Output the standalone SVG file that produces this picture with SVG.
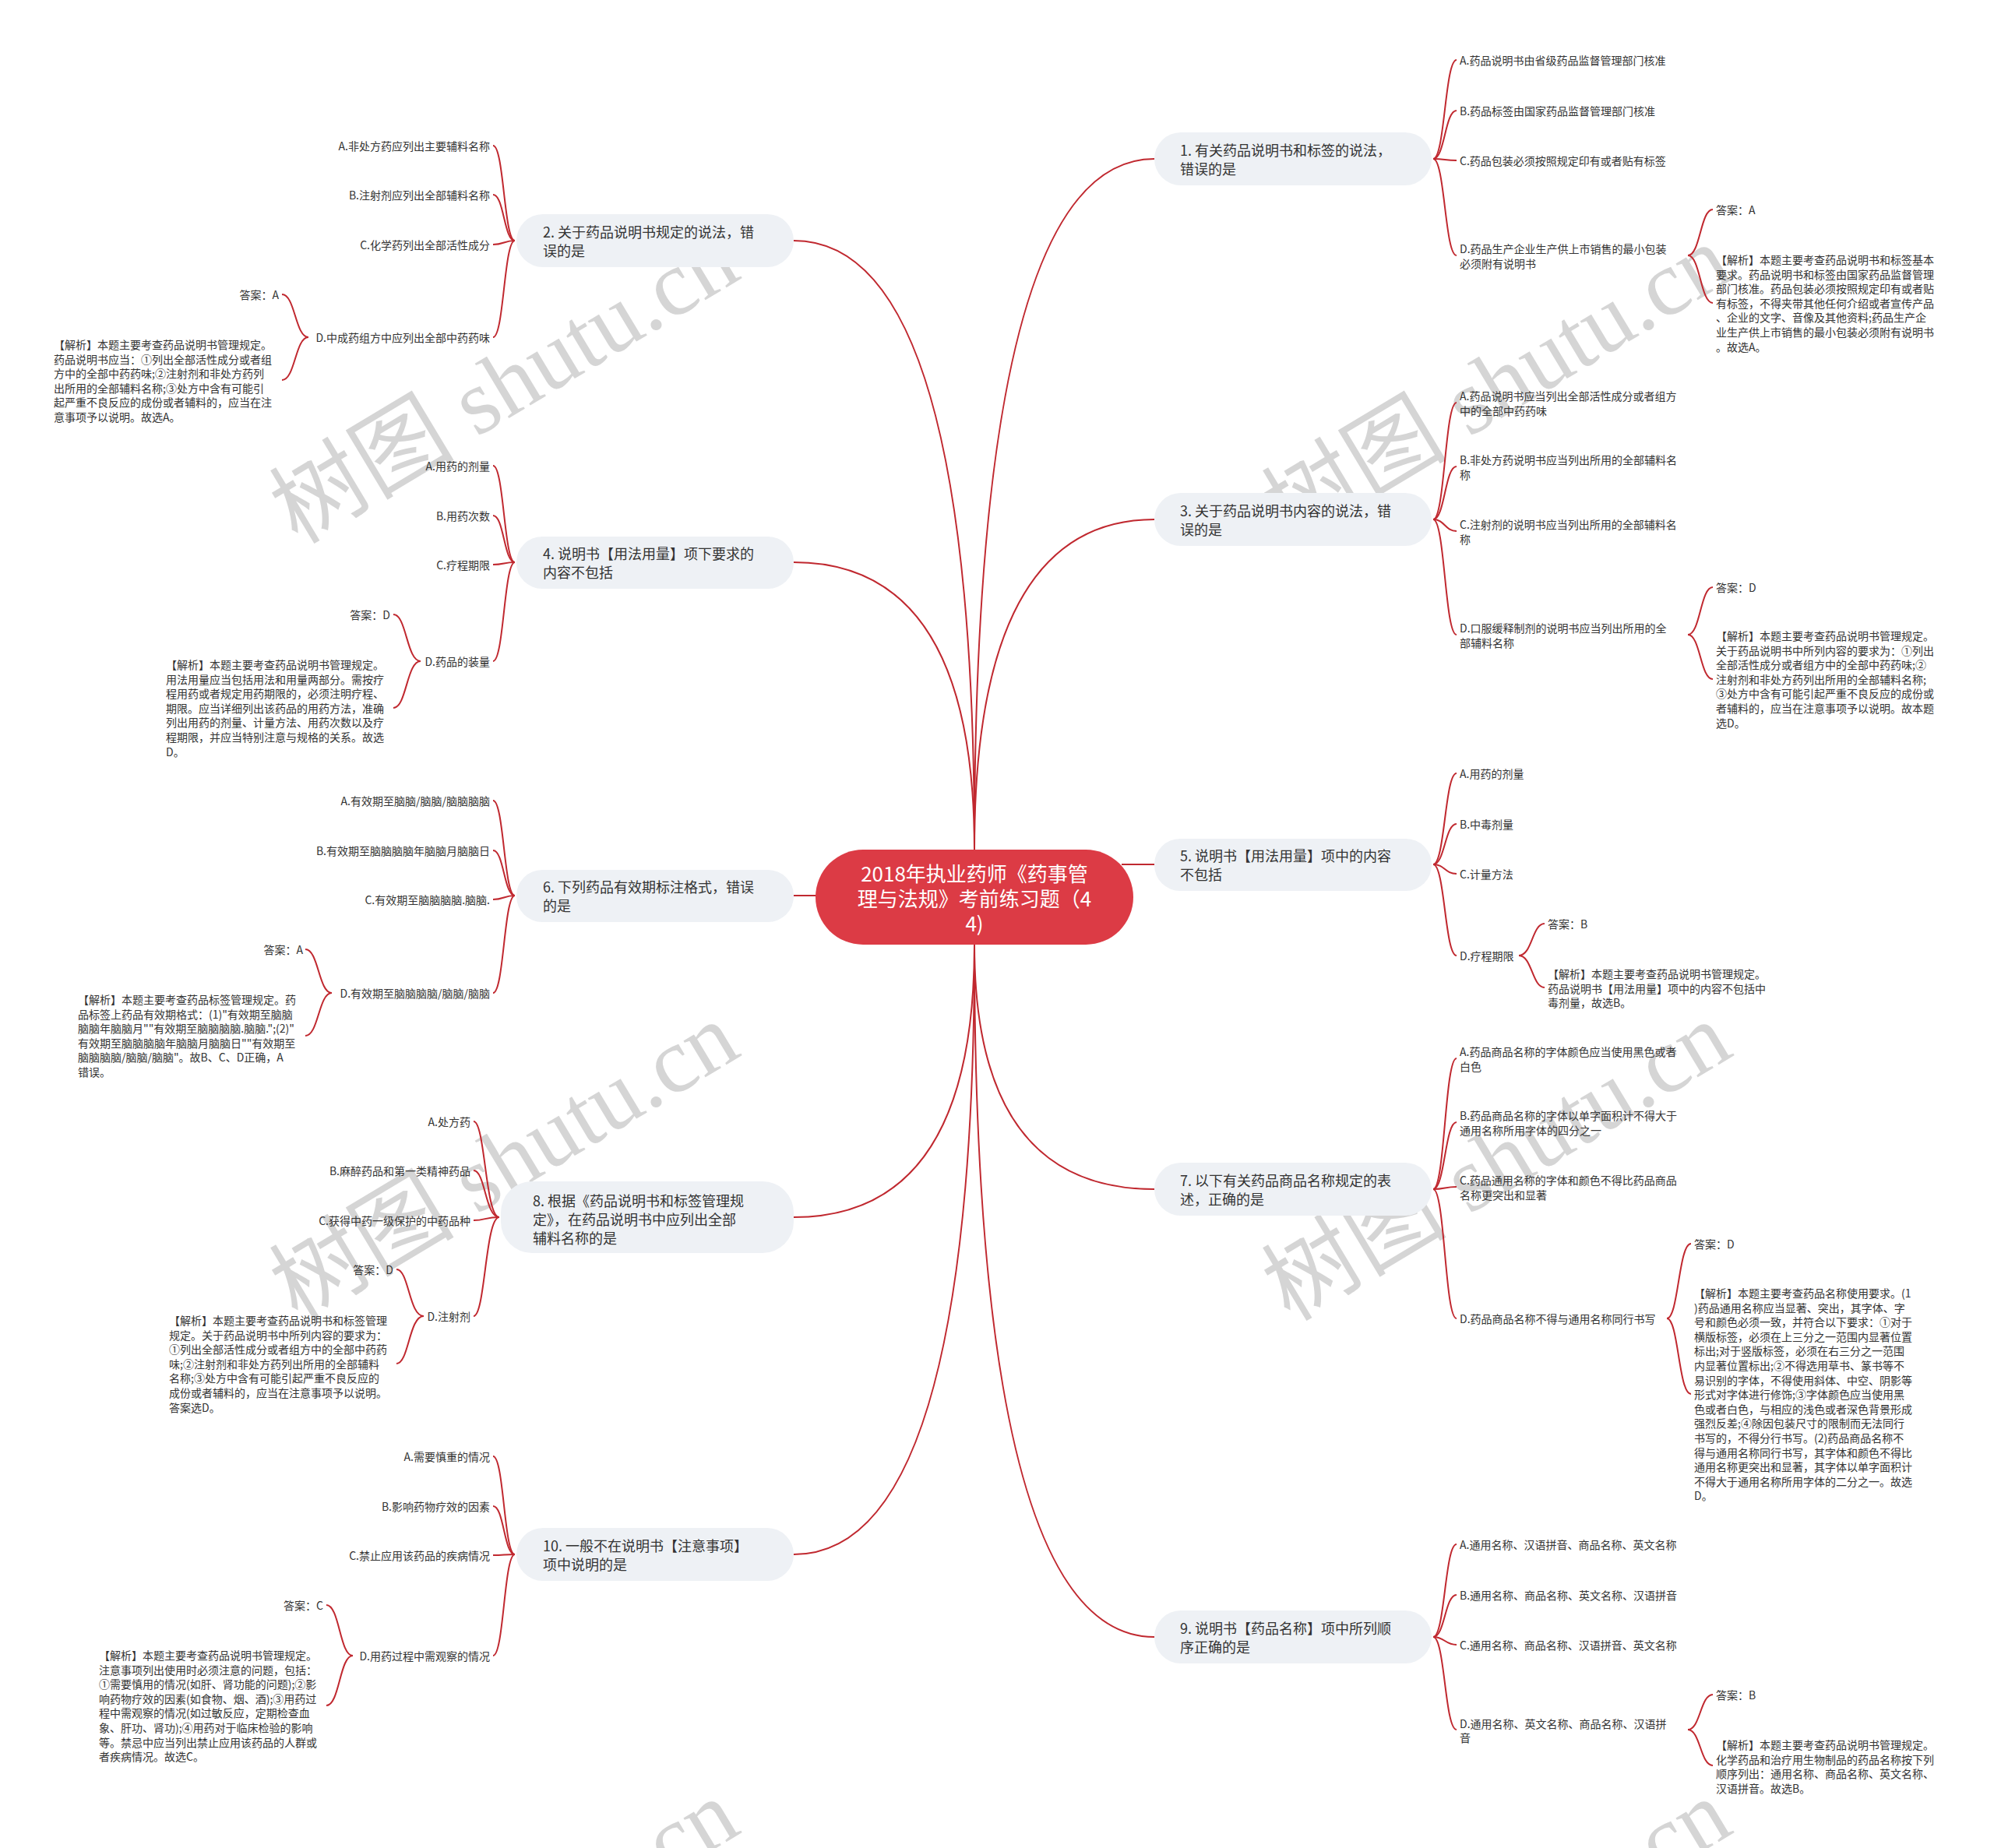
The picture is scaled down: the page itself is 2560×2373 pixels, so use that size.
<svg xmlns="http://www.w3.org/2000/svg" width="2560" height="2373" viewBox="0 0 2560 2373">
<style>
text{font-family:"Noto Sans CJK SC","Microsoft YaHei",sans-serif;dominant-baseline:central;fill:#333}
.wm{font-family:"Liberation Serif","Noto Sans CJK SC",serif;font-size:119px;fill:#d5d5d5;dominant-baseline:alphabetic}
.wmc{font-family:"Noto Sans CJK SC",sans-serif}
.link{fill:none;stroke:#c0282f;stroke-width:2}
.n1 rect{fill:#eef1f5}
.n1 text{font-size:18px}
.t2{font-size:14px}
.e{text-anchor:end}
.root rect{fill:#dc3b45}
.root text{font-size:26px;fill:#fff;text-anchor:middle}
</style>
<rect width="2560" height="2373" fill="#fff"/>
<g id="watermark">
<text class="wm" transform="translate(382,700) rotate(-31)"><tspan class="wmc">树图</tspan> shutu.cn</text>
<text class="wm" transform="translate(1656,700) rotate(-31)"><tspan class="wmc">树图</tspan> shutu.cn</text>
<text class="wm" transform="translate(382,1698) rotate(-31)"><tspan class="wmc">树图</tspan> shutu.cn</text>
<text class="wm" transform="translate(1656,1698) rotate(-31)"><tspan class="wmc">树图</tspan> shutu.cn</text>
<text class="wm" transform="translate(382,2696) rotate(-31)"><tspan class="wmc">树图</tspan> shutu.cn</text>
<text class="wm" transform="translate(1656,2696) rotate(-31)"><tspan class="wmc">树图</tspan> shutu.cn</text>
</g>
<g id="connectors" class="link">
<path d="M1251 1091Q1251 204 1482 204"/>
<path d="M1251 1091Q1251 309 1019 309"/>
<path d="M1251 1091Q1251 667 1482 667"/>
<path d="M1251 1091Q1251 722 1019 722"/>
<path d="M1440 1110L1482 1110"/>
<path d="M1019 1150L1062 1150"/>
<path d="M1251 1213Q1251 1527 1482 1527"/>
<path d="M1251 1213Q1251 1563 1019 1563"/>
<path d="M1251 1213Q1251 2102 1482 2102"/>
<path d="M1251 1213Q1251 1996 1019 1996"/>
<path d="M1840 204C1855 204 1855 77 1870 77"/>
<path d="M1840 204C1855 204 1855 142 1870 142"/>
<path d="M1840 204C1855 204 1855 206 1870 206"/>
<path d="M1840 204C1855 204 1855 328 1870 328"/>
<path d="M2167 328C2183 328 2183 269 2199 269"/>
<path d="M2167 328C2183 328 2183 389 2199 389"/>
<path d="M1840 667C1855 667 1855 517 1870 517"/>
<path d="M1840 667C1855 667 1855 599 1870 599"/>
<path d="M1840 667C1855 667 1855 682 1870 682"/>
<path d="M1840 667C1855 667 1855 815 1870 815"/>
<path d="M2167 815C2183 815 2183 754 2199 754"/>
<path d="M2167 815C2183 815 2183 872 2199 872"/>
<path d="M1840 1110C1855 1110 1855 993 1870 993"/>
<path d="M1840 1110C1855 1110 1855 1058 1870 1058"/>
<path d="M1840 1110C1855 1110 1855 1122 1870 1122"/>
<path d="M1840 1110C1855 1110 1855 1227 1870 1227"/>
<path d="M1950 1227C1967 1227 1967 1186 1983 1186"/>
<path d="M1950 1227C1967 1227 1967 1268 1983 1268"/>
<path d="M1840 1527C1855 1527 1855 1359 1870 1359"/>
<path d="M1840 1527C1855 1527 1855 1441 1870 1441"/>
<path d="M1840 1527C1855 1527 1855 1524 1870 1524"/>
<path d="M1840 1527C1855 1527 1855 1693 1870 1693"/>
<path d="M2140 1693C2155 1693 2155 1597 2171 1597"/>
<path d="M2140 1693C2155 1693 2155 1790 2171 1790"/>
<path d="M1840 2102C1855 2102 1855 1983 1870 1983"/>
<path d="M1840 2102C1855 2102 1855 2048 1870 2048"/>
<path d="M1840 2102C1855 2102 1855 2112 1870 2112"/>
<path d="M1840 2102C1855 2102 1855 2221 1870 2221"/>
<path d="M2167 2221C2183 2221 2183 2176 2199 2176"/>
<path d="M2167 2221C2183 2221 2183 2267 2199 2267"/>
<path d="M661 309C647 309 647 187 633 187"/>
<path d="M661 309C647 309 647 250 633 250"/>
<path d="M661 309C647 309 647 314 633 314"/>
<path d="M661 309C647 309 647 433 633 433"/>
<path d="M396 433C379 433 379 378 362 378"/>
<path d="M396 433C379 433 379 488 362 488"/>
<path d="M661 722C647 722 647 598 633 598"/>
<path d="M661 722C647 722 647 662 633 662"/>
<path d="M661 722C647 722 647 725 633 725"/>
<path d="M661 722C647 722 647 849 633 849"/>
<path d="M540 849C522 849 522 789 505 789"/>
<path d="M540 849C522 849 522 909 505 909"/>
<path d="M661 1150C647 1150 647 1028 633 1028"/>
<path d="M661 1150C647 1150 647 1092 633 1092"/>
<path d="M661 1150C647 1150 647 1155 633 1155"/>
<path d="M661 1150C647 1150 647 1275 633 1275"/>
<path d="M426 1275C409 1275 409 1219 392 1219"/>
<path d="M426 1275C409 1275 409 1330 392 1330"/>
<path d="M641 1563C623 1563 623 1440 608 1440"/>
<path d="M641 1563C623 1563 623 1503 608 1503"/>
<path d="M641 1563C623 1563 623 1567 608 1567"/>
<path d="M641 1563C623 1563 623 1690 608 1690"/>
<path d="M544 1690C525 1690 525 1630 509 1630"/>
<path d="M544 1690C525 1690 525 1751 509 1751"/>
<path d="M661 1996C647 1996 647 1870 633 1870"/>
<path d="M661 1996C647 1996 647 1934 633 1934"/>
<path d="M661 1996C647 1996 647 1997 633 1997"/>
<path d="M661 1996C647 1996 647 2126 633 2126"/>
<path d="M453 2126C436 2126 436 2061 419 2061"/>
<path d="M453 2126C436 2126 436 2190 419 2190"/>
</g>
<g id="root" class="root">
<rect x="1047" y="1091" width="408" height="122" rx="61"/>
<text x="1251" y="1120">2018年执业药师《药事管</text>
<text x="1251" y="1152">理与法规》考前练习题（4</text>
<text x="1251" y="1184">4)</text>
</g>
<g id="q1" class="n1">
<rect x="1482" y="170" width="356" height="68" rx="34"/>
<text x="1515" y="192">1. 有关药品说明书和标签的说法，</text>
<text x="1515" y="216">错误的是</text>
</g>
<g id="q1-opts" class="t2">
<text x="1874" y="77">A.药品说明书由省级药品监督管理部门核准</text>
<text x="1874" y="142">B.药品标签由国家药品监督管理部门核准</text>
<text x="1874" y="206">C.药品包装必须按照规定印有或者贴有标签</text>
<text x="1874" y="319">D.药品生产企业生产供上市销售的最小包装</text>
<text x="1874" y="338">必须附有说明书</text>
</g>
<g id="q1-ans" class="t2">
<text x="2203" y="269">答案：A</text>
<text x="2203" y="333">【解析】本题主要考查药品说明书和标签基本</text>
<text x="2203" y="351.6">要求。药品说明书和标签由国家药品监督管理</text>
<text x="2203" y="370.2">部门核准。药品包装必须按照规定印有或者贴</text>
<text x="2203" y="388.8">有标签，不得夹带其他任何介绍或者宣传产品</text>
<text x="2203" y="407.4">、企业的文字、音像及其他资料;药品生产企</text>
<text x="2203" y="426">业生产供上市销售的最小包装必须附有说明书</text>
<text x="2203" y="444.6">。故选A。</text>
</g>
<g id="q2" class="n1">
<rect x="663" y="275" width="356" height="68" rx="34"/>
<text x="697" y="297">2. 关于药品说明书规定的说法，错</text>
<text x="697" y="321">误的是</text>
</g>
<g id="q2-opts" class="t2 e">
<text x="629" y="187">A.非处方药应列出主要辅料名称</text>
<text x="629" y="250">B.注射剂应列出全部辅料名称</text>
<text x="629" y="314">C.化学药列出全部活性成分</text>
<text x="629" y="433">D.中成药组方中应列出全部中药药味</text>
<text x="358" y="378">答案：A</text>
</g>
<g id="q2-ans" class="t2">
<text x="69" y="442">【解析】本题主要考查药品说明书管理规定。</text>
<text x="69" y="460.6">药品说明书应当：①列出全部活性成分或者组</text>
<text x="69" y="479.2">方中的全部中药药味;②注射剂和非处方药列</text>
<text x="69" y="497.8">出所用的全部辅料名称;③处方中含有可能引</text>
<text x="69" y="516.4">起严重不良反应的成份或者辅料的，应当在注</text>
<text x="69" y="535">意事项予以说明。故选A。</text>
</g>
<g id="q3" class="n1">
<rect x="1482" y="633" width="356" height="68" rx="34"/>
<text x="1515" y="655">3. 关于药品说明书内容的说法，错</text>
<text x="1515" y="679">误的是</text>
</g>
<g id="q3-opts" class="t2">
<text x="1874" y="508">A.药品说明书应当列出全部活性成分或者组方</text>
<text x="1874" y="527">中的全部中药药味</text>
<text x="1874" y="590">B.非处方药说明书应当列出所用的全部辅料名</text>
<text x="1874" y="609">称</text>
<text x="1874" y="673">C.注射剂的说明书应当列出所用的全部辅料名</text>
<text x="1874" y="692">称</text>
<text x="1874" y="806">D.口服缓释制剂的说明书应当列出所用的全</text>
<text x="1874" y="825">部辅料名称</text>
</g>
<g id="q3-ans" class="t2">
<text x="2203" y="754">答案：D</text>
<text x="2203" y="816">【解析】本题主要考查药品说明书管理规定。</text>
<text x="2203" y="834.6">关于药品说明书中所列内容的要求为：①列出</text>
<text x="2203" y="853.2">全部活性成分或者组方中的全部中药药味;②</text>
<text x="2203" y="871.8">注射剂和非处方药列出所用的全部辅料名称;</text>
<text x="2203" y="890.4">③处方中含有可能引起严重不良反应的成份或</text>
<text x="2203" y="909">者辅料的，应当在注意事项予以说明。故本题</text>
<text x="2203" y="927.6">选D。</text>
</g>
<g id="q4" class="n1">
<rect x="663" y="689" width="356" height="67" rx="33"/>
<text x="697" y="710">4. 说明书【用法用量】项下要求的</text>
<text x="697" y="734">内容不包括</text>
</g>
<g id="q4-opts" class="t2 e">
<text x="629" y="598">A.用药的剂量</text>
<text x="629" y="662">B.用药次数</text>
<text x="629" y="725">C.疗程期限</text>
<text x="629" y="849">D.药品的装量</text>
<text x="501" y="789">答案：D</text>
</g>
<g id="q4-ans" class="t2">
<text x="213" y="853">【解析】本题主要考查药品说明书管理规定。</text>
<text x="213" y="871.6">用法用量应当包括用法和用量两部分。需按疗</text>
<text x="213" y="890.2">程用药或者规定用药期限的，必须注明疗程、</text>
<text x="213" y="908.8">期限。应当详细列出该药品的用药方法，准确</text>
<text x="213" y="927.4">列出用药的剂量、计量方法、用药次数以及疗</text>
<text x="213" y="946">程期限，并应当特别注意与规格的关系。故选</text>
<text x="213" y="964.6">D。</text>
</g>
<g id="q5" class="n1">
<rect x="1482" y="1077" width="356" height="67" rx="33"/>
<text x="1515" y="1098">5. 说明书【用法用量】项中的内容</text>
<text x="1515" y="1122">不包括</text>
</g>
<g id="q5-opts" class="t2">
<text x="1874" y="993">A.用药的剂量</text>
<text x="1874" y="1058">B.中毒剂量</text>
<text x="1874" y="1122">C.计量方法</text>
<text x="1874" y="1227">D.疗程期限</text>
</g>
<g id="q5-ans" class="t2">
<text x="1987" y="1186">答案：B</text>
<text x="1987" y="1250">【解析】本题主要考查药品说明书管理规定。</text>
<text x="1987" y="1268.6">药品说明书【用法用量】项中的内容不包括中</text>
<text x="1987" y="1287.2">毒剂量，故选B。</text>
</g>
<g id="q6" class="n1">
<rect x="663" y="1117" width="356" height="67" rx="33"/>
<text x="697" y="1138">6. 下列药品有效期标注格式，错误</text>
<text x="697" y="1162">的是</text>
</g>
<g id="q6-opts" class="t2 e">
<text x="629" y="1028">A.有效期至脑脑/脑脑/脑脑脑脑</text>
<text x="629" y="1092">B.有效期至脑脑脑脑年脑脑月脑脑日</text>
<text x="629" y="1155">C.有效期至脑脑脑脑.脑脑.</text>
<text x="629" y="1275">D.有效期至脑脑脑脑/脑脑/脑脑</text>
<text x="389" y="1219">答案：A</text>
</g>
<g id="q6-ans" class="t2">
<text x="100" y="1283">【解析】本题主要考查药品标签管理规定。药</text>
<text x="100" y="1301.6">品标签上药品有效期格式：(1)"有效期至脑脑</text>
<text x="100" y="1320.2">脑脑年脑脑月""有效期至脑脑脑脑.脑脑.";(2)"</text>
<text x="100" y="1338.8">有效期至脑脑脑脑年脑脑月脑脑日""有效期至</text>
<text x="100" y="1357.4">脑脑脑脑/脑脑/脑脑"。故B、C、D正确，A</text>
<text x="100" y="1376">错误。</text>
</g>
<g id="q7" class="n1">
<rect x="1482" y="1493" width="356" height="68" rx="34"/>
<text x="1515" y="1515">7. 以下有关药品商品名称规定的表</text>
<text x="1515" y="1539">述，正确的是</text>
</g>
<g id="q7-opts" class="t2">
<text x="1874" y="1350">A.药品商品名称的字体颜色应当使用黑色或者</text>
<text x="1874" y="1368.6">白色</text>
<text x="1874" y="1432">B.药品商品名称的字体以单字面积计不得大于</text>
<text x="1874" y="1450.6">通用名称所用字体的四分之一</text>
<text x="1874" y="1515">C.药品通用名称的字体和颜色不得比药品商品</text>
<text x="1874" y="1533.6">名称更突出和显著</text>
<text x="1874" y="1693">D.药品商品名称不得与通用名称同行书写</text>
</g>
<g id="q7-ans" class="t2">
<text x="2175" y="1597">答案：D</text>
<text x="2175" y="1660">【解析】本题主要考查药品名称使用要求。(1</text>
<text x="2175" y="1678.6">)药品通用名称应当显著、突出，其字体、字</text>
<text x="2175" y="1697.2">号和颜色必须一致，并符合以下要求：①对于</text>
<text x="2175" y="1715.8">横版标签，必须在上三分之一范围内显著位置</text>
<text x="2175" y="1734.4">标出;对于竖版标签，必须在右三分之一范围</text>
<text x="2175" y="1753">内显著位置标出;②不得选用草书、篆书等不</text>
<text x="2175" y="1771.6">易识别的字体，不得使用斜体、中空、阴影等</text>
<text x="2175" y="1790.2">形式对字体进行修饰;③字体颜色应当使用黑</text>
<text x="2175" y="1808.8">色或者白色，与相应的浅色或者深色背景形成</text>
<text x="2175" y="1827.4">强烈反差;④除因包装尺寸的限制而无法同行</text>
<text x="2175" y="1846">书写的，不得分行书写。(2)药品商品名称不</text>
<text x="2175" y="1864.6">得与通用名称同行书写，其字体和颜色不得比</text>
<text x="2175" y="1883.2">通用名称更突出和显著，其字体以单字面积计</text>
<text x="2175" y="1901.8">不得大于通用名称所用字体的二分之一。故选</text>
<text x="2175" y="1920.4">D。</text>
</g>
<g id="q8" class="n1">
<rect x="643" y="1517" width="376" height="92" rx="40"/>
<text x="684" y="1541">8. 根据《药品说明书和标签管理规</text>
<text x="684" y="1565">定》，在药品说明书中应列出全部</text>
<text x="684" y="1589">辅料名称的是</text>
</g>
<g id="q8-opts" class="t2 e">
<text x="604" y="1440">A.处方药</text>
<text x="604" y="1503">B.麻醉药品和第一类精神药品</text>
<text x="604" y="1567">C.获得中药一级保护的中药品种</text>
<text x="604" y="1690">D.注射剂</text>
<text x="505" y="1630">答案：D</text>
</g>
<g id="q8-ans" class="t2">
<text x="217" y="1695">【解析】本题主要考查药品说明书和标签管理</text>
<text x="217" y="1713.6">规定。关于药品说明书中所列内容的要求为：</text>
<text x="217" y="1732.2">①列出全部活性成分或者组方中的全部中药药</text>
<text x="217" y="1750.8">味;②注射剂和非处方药列出所用的全部辅料</text>
<text x="217" y="1769.4">名称;③处方中含有可能引起严重不良反应的</text>
<text x="217" y="1788">成份或者辅料的，应当在注意事项予以说明。</text>
<text x="217" y="1806.6">答案选D。</text>
</g>
<g id="q9" class="n1">
<rect x="1482" y="2068" width="356" height="68" rx="34"/>
<text x="1515" y="2090">9. 说明书【药品名称】项中所列顺</text>
<text x="1515" y="2114">序正确的是</text>
</g>
<g id="q9-opts" class="t2">
<text x="1874" y="1983">A.通用名称、汉语拼音、商品名称、英文名称</text>
<text x="1874" y="2048">B.通用名称、商品名称、英文名称、汉语拼音</text>
<text x="1874" y="2112">C.通用名称、商品名称、汉语拼音、英文名称</text>
<text x="1874" y="2213">D.通用名称、英文名称、商品名称、汉语拼</text>
<text x="1874" y="2231">音</text>
</g>
<g id="q9-ans" class="t2">
<text x="2203" y="2176">答案：B</text>
<text x="2203" y="2240">【解析】本题主要考查药品说明书管理规定。</text>
<text x="2203" y="2258.6">化学药品和治疗用生物制品的药品名称按下列</text>
<text x="2203" y="2277.2">顺序列出：通用名称、商品名称、英文名称、</text>
<text x="2203" y="2295.8">汉语拼音。故选B。</text>
</g>
<g id="q10" class="n1">
<rect x="663" y="1962" width="356" height="68" rx="34"/>
<text x="697" y="1984">10. 一般不在说明书【注意事项】</text>
<text x="697" y="2008">项中说明的是</text>
</g>
<g id="q10-opts" class="t2 e">
<text x="629" y="1870">A.需要慎重的情况</text>
<text x="629" y="1934">B.影响药物疗效的因素</text>
<text x="629" y="1997">C.禁止应用该药品的疾病情况</text>
<text x="629" y="2126">D.用药过程中需观察的情况</text>
<text x="415" y="2061">答案：C</text>
</g>
<g id="q10-ans" class="t2">
<text x="127" y="2125">【解析】本题主要考查药品说明书管理规定。</text>
<text x="127" y="2143.6">注意事项列出使用时必须注意的问题，包括：</text>
<text x="127" y="2162.2">①需要慎用的情况(如肝、肾功能的问题);②影</text>
<text x="127" y="2180.8">响药物疗效的因素(如食物、烟、酒);③用药过</text>
<text x="127" y="2199.4">程中需观察的情况(如过敏反应，定期检查血</text>
<text x="127" y="2218">象、肝功、肾功);④用药对于临床检验的影响</text>
<text x="127" y="2236.6">等。禁忌中应当列出禁止应用该药品的人群或</text>
<text x="127" y="2255.2">者疾病情况。故选C。</text>
</g>
</svg>
